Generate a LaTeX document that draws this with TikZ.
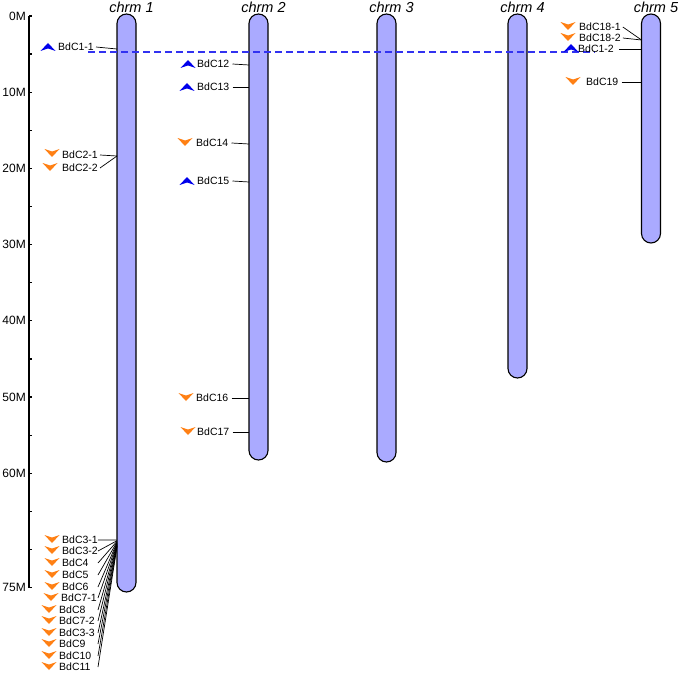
\documentclass[tikz,border=0pt]{standalone}
\usepackage{fontspec}
\setmainfont{Liberation Sans}
\usetikzlibrary{positioning}

\definecolor{chromfill}{RGB}{170,170,255}
\definecolor{markblue}{RGB}{0,0,235}
\definecolor{markorange}{RGB}{255,128,20}
\definecolor{dupblue}{RGB}{50,50,240}

\begin{document}
\begin{tikzpicture}[x=1pt,y=-1pt,
    chrom/.style={draw=black, line width=1.1pt, fill=chromfill,
      rounded corners=9.5pt, minimum width=19pt, inner sep=0pt,
      outer sep=0pt, anchor=north},
    chromlabel/.style={font=\fontsize{14.5}{14.5}\selectfont\itshape,
      inner sep=0pt, xshift=5pt},
    gene/.style={font=\fontsize{10.5}{10.5}\selectfont, inner sep=0pt, anchor=west},
    scalelabel/.style={font=\fontsize{12}{12}\selectfont, inner sep=0pt, anchor=east},
    link/.style={black, line width=0.7pt},
    dup/.style={dupblue, line width=1.2pt, dash pattern=on 7pt off 4pt},
    upmark/.pic={\fill[markblue] (-7.5,4) -- (0,-4) -- (7.5,4) -- (0,1.5) -- cycle;},
    downmark/.pic={\fill[markorange] (-7.5,-4) -- (0,4) -- (7.5,-4) -- (0,-1.5) -- cycle;},
  ]
  \useasboundingbox (0,0) rectangle (680,674);

  % scale
  \draw[line width=1.4pt] (29,16) -- (29,588);
  \foreach \m in {0,5,...,75}
    \draw[line width=1.2pt] (29,16+\m*7.62) -- ++(3,0);
  \foreach \m in {0,10,...,60,75}
    \node[scalelabel] (s\m) at (26,16+\m*7.62) {\m M};

  % chromosomes
  \node[chrom, minimum height=578pt] (c1) at (126.5,14) {};
  \node[chrom, minimum height=446pt] (c2) at (258.5,14) {};
  \node[chrom, minimum height=448pt] (c3) at (386.5,14) {};
  \node[chrom, minimum height=364pt] (c4) at (517.5,14) {};
  \node[chrom, minimum height=229pt] (c5) at (651,14) {};
  \foreach \c in {1,...,5}
    \node[chromlabel, above=1pt of c\c] (l\c) {chrm \c};

  % duplicated pair
  \coordinate (dupL) at (88,52);
  \coordinate (dupR) at (595,52);
  \draw[dup] (dupL) -- (dupR);

  % chrm 1
  \pic at (48,47) {upmark};
  \node[gene] (g11) at (58,47) {BdC1-1};
  \draw[link] ([xshift=2pt]g11.east) -- (c1.west |- 0,49);
  \pic at (52,153) {downmark};
  \node[gene] (g21) at (62,155) {BdC2-1};
  \pic at (50,167) {downmark};
  \node[gene] (g22) at (62,168) {BdC2-2};
  \draw[link] ([xshift=2pt]g21.east) -- (c1.west |- 0,156);
  \draw[link] ([xshift=2pt]g22.east) -- (c1.west |- 0,156);

  \foreach \nm/\y/\x [count=\i] in {BdC3-1/540/62, BdC3-2/551/62,
      BdC4/563/62, BdC5/575/62, BdC6/587/62, BdC7-1/598/61, BdC8/610/59,
      BdC7-2/621/59, BdC3-3/633/59, BdC9/644/59, BdC10/656/59, BdC11/667/59}
  {
    \pic at (\x-10,\y-1) {downmark};
    \node[gene] (k\i) at (\x,\y) {\nm};
    \draw[link] (k\i.west -| 98,0) -- (c1.west |- 0,539.5+\i*0.6);
  }

  % chrm 2
  \pic at (188,64) {upmark};
  \node[gene] (g12) at (197,64) {BdC12};
  \pic at (187,87) {upmark};
  \node[gene] (g13) at (197,87) {BdC13};
  \pic at (185,142) {downmark};
  \node[gene] (g14) at (196,143) {BdC14};
  \pic at (187,181) {upmark};
  \node[gene] (g15) at (197,181) {BdC15};
  \pic at (186,397) {downmark};
  \node[gene] (g16) at (196,398) {BdC16};
  \pic at (188,431) {downmark};
  \node[gene] (g17) at (197,432) {BdC17};
  \foreach \g/\y in {12/65, 13/87, 14/144, 15/182, 16/398, 17/432}
    \draw[link] ([xshift=3pt]g\g.east) -- (c2.west |- 0,\y);

  % chrm 5
  \pic at (568,26) {downmark};
  \node[gene] (g181) at (579,27) {BdC18-1};
  \pic at (568,37) {downmark};
  \node[gene] (g182) at (579,38) {BdC18-2};
  \pic at (571,48) {upmark};
  \node[gene] (g12b) at (578,49) {BdC1-2};
  \pic at (573,81) {downmark};
  \node[gene] (g19) at (586,82) {BdC19};
  \draw[link] ([xshift=2pt]g181.east) -- (c5.west |- 0,40);
  \draw[link] ([xshift=2pt]g182.east) -- (c5.west |- 0,40);
  \draw[link] ([xshift=5pt]g12b.east) -- (c5.west |- 0,49);
  \draw[link] ([xshift=3pt]g19.east) -- (c5.west |- 0,82);
\end{tikzpicture}
\end{document}
